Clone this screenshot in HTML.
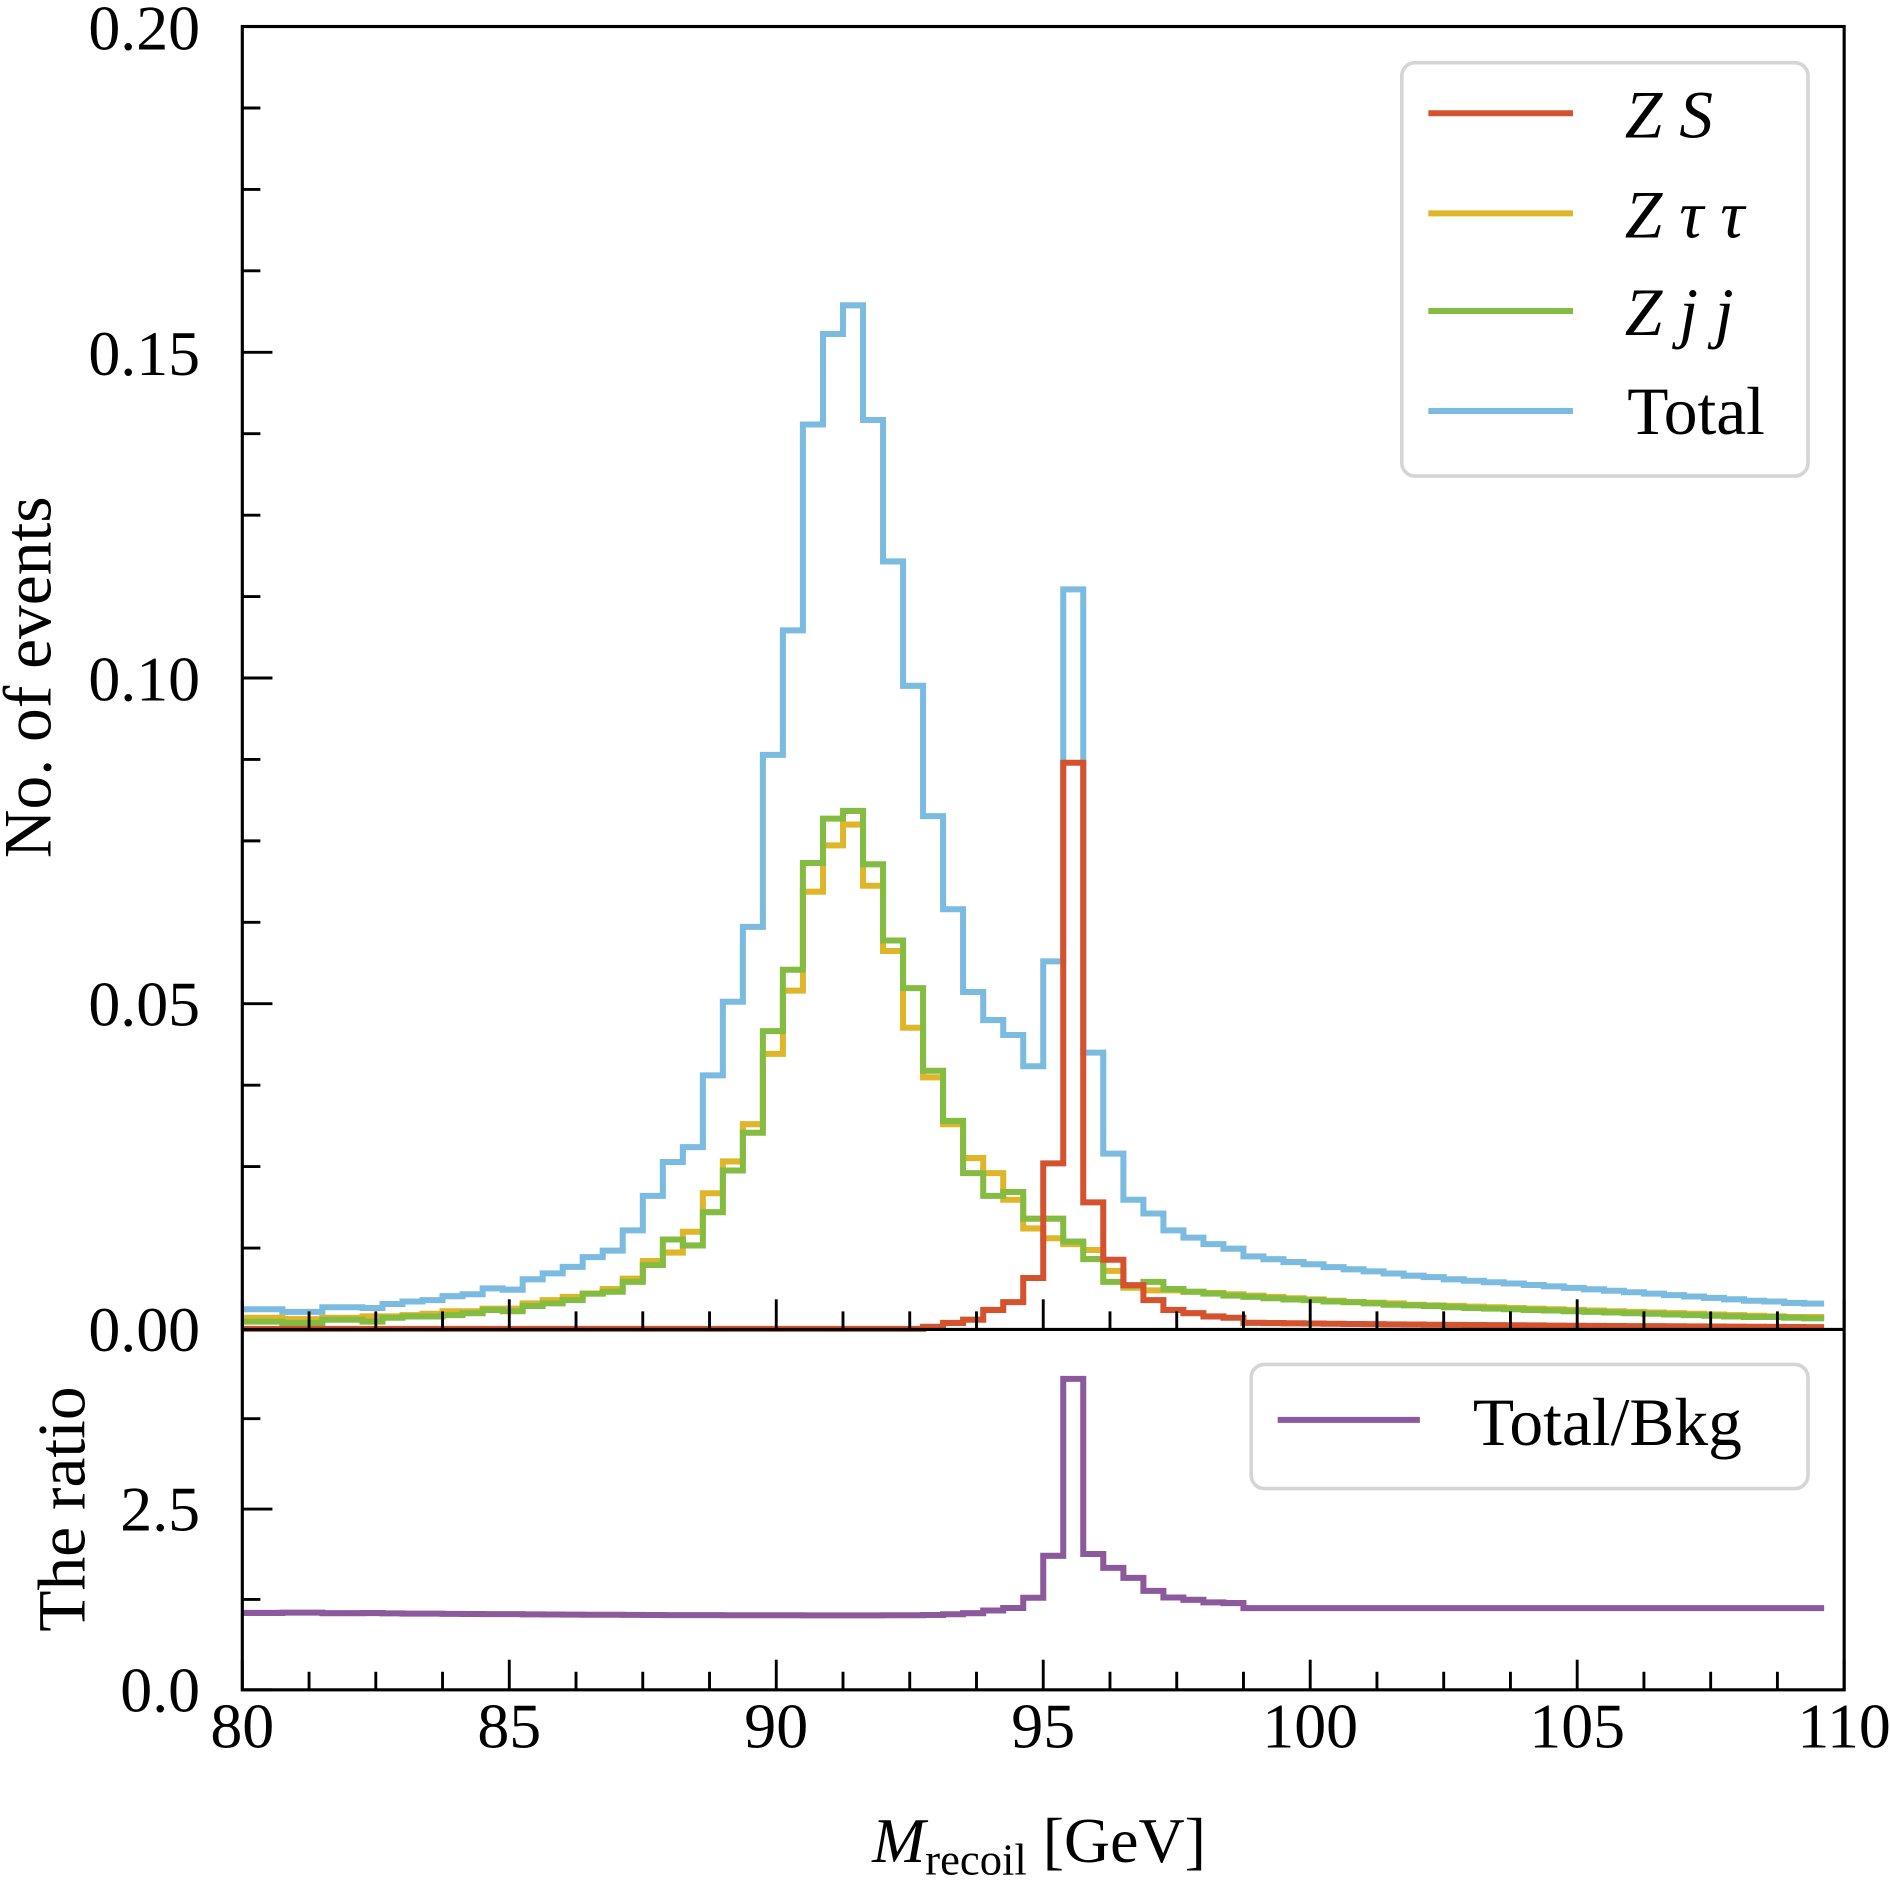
<!DOCTYPE html>
<html><head><meta charset="utf-8"><style>
html,body{margin:0;padding:0;background:#fff;}
svg{display:block;}
text{font-family:"Liberation Serif",serif;fill:#000;}
</style></head><body>
<svg id="s" width="1890" height="1881" viewBox="0 0 1568 1560.6" xmlns="http://www.w3.org/2000/svg">
<rect x="0" y="0" width="1568" height="1561" fill="#fff"/>
<g id="series" fill="none" stroke-width="5" stroke-linejoin="miter"></g>
<g id="ticks" stroke="#000" stroke-width="2.4"></g>
<rect x="201" y="22" width="1329" height="1380" fill="none" stroke="#000" stroke-width="2.6"/>
<line x1="201" y1="1103" x2="1530" y2="1103" stroke="#000" stroke-width="2.6"/>
<g font-size="53" text-anchor="end">
<text x="166" y="1121">0.00</text>
<text x="166" y="851">0.05</text>
<text x="166" y="581">0.10</text>
<text x="166" y="311">0.15</text>
<text x="166" y="41">0.20</text>
<text x="166" y="1270">2.5</text>
<text x="166" y="1420">0.0</text>
</g>
<g font-size="53" text-anchor="middle">
<text x="201" y="1450">80</text>
<text x="422.5" y="1450">85</text>
<text x="644" y="1450">90</text>
<text x="865.5" y="1450">95</text>
<text x="1087" y="1450">100</text>
<text x="1308.5" y="1450">105</text>
<text x="1530" y="1450">110</text>
</g>
<text x="862" y="1545" font-size="53" text-anchor="middle"><tspan font-style="italic">M</tspan><tspan font-size="37" dy="10">recoil</tspan><tspan dy="-10"> [GeV]</tspan></text>
<text transform="translate(42,562) rotate(-90)" font-size="56" text-anchor="middle">No. of events</text>
<text transform="translate(70,1252) rotate(-90)" font-size="56" text-anchor="middle">The ratio</text>
<rect x="1163" y="52" width="337" height="343" rx="11" fill="#fff" stroke="#d5d5d5" stroke-width="3"/>
<line x1="1185" y1="94" x2="1305" y2="94" stroke="#d4532e" stroke-width="5"/>
<line x1="1185" y1="177" x2="1305" y2="177" stroke="#dfb52a" stroke-width="5"/>
<line x1="1185" y1="258" x2="1305" y2="258" stroke="#84bc41" stroke-width="5"/>
<line x1="1185" y1="341" x2="1305" y2="341" stroke="#7bbbe0" stroke-width="5"/>
<g font-size="56" font-style="italic">
<text x="1348" y="114">Z S</text>
<text x="1348" y="197">Z τ τ</text>
<text x="1348" y="278">Z j j</text>
</g>
<text x="1350" y="360" font-size="56">Total</text>
<rect x="1038" y="1132" width="462" height="103" rx="11" fill="#fff" stroke="#d5d5d5" stroke-width="3"/>
<line x1="1060" y1="1178" x2="1178" y2="1178" stroke="#8c5a9c" stroke-width="5"/>
<text x="1222" y="1199" font-size="56">Total/Bkg</text>
</svg>
<script>
var g=[.0012,.0012,.0010,.0010,.0015,.0015,.0012,.0018,.0020,.0020,
.0022,.0025,.0030,.0028,.0036,.0040,.0045,.0055,.0058,.0073,
.0099,.0138,.0129,.0180,.0244,.0302,.0458,.0552,.0716,.0784,
.0796,.0714,.0597,.0524,.0397,.0320,.0240,.0205,.0211,.0170,
.0170,.0135,.0108,.0073,.0067,.0073,.0062,.0058,.0055,.0052,
.0050,.0048,.0046,.0045,.0043,.0042,.0040,.0038,.0037,.0036,
.0034,.0033,.0032,.0031,.0030,.0029,.0028,.0027,.0026,.0025,
.0024,.0023,.0022,.0021,.0020,.0019,.0019,.0018,.0017];
var y=[.0018,.0018,.0016,.0016,.0018,.0018,.0020,.0020,.0022,.0024,
.0028,.0028,.0032,.0032,.0040,.0045,.0050,.0055,.0062,.0078,
.0105,.0118,.0150,.0209,.0258,.0315,.0423,.0520,.0672,.0743,
.0775,.0681,.0581,.0463,.0387,.0315,.0263,.0240,.0199,.0155,
.0140,.0131,.0122,.0090,.0064,.0060,.0060,.0058,.0056,.0054,
.0052,.0050,.0048,.0046,.0044,.0042,.0041,.0040,.0038,.0037,
.0036,.0035,.0034,.0033,.0032,.0031,.0030,.0029,.0028,.0027,
.0026,.0025,.0024,.0023,.0022,.0021,.0020,.0019,.0019];
var N=79;
var r=[];for(var i=0;i<N;i++)r.push(0.0001);
var rr={34:.0004,35:.001,36:.0015,37:.003,38:.0042,39:.0079,40:.0255,41:.087,42:.0195,43:.0107,44:.0068,45:.0045,46:.003,47:.0025,48:.002,49:.0018};
for(var k in rr)r[k]=rr[k];for(var i=50;i<N;i++)r[i]=0.1*(g[i]+y[i]);
var t=[],q=[];for(var i=0;i<N;i++){t.push(g[i]+y[i]+r[i]);q.push(t[i]/(g[i]+y[i])+0.03);}
function X(i){return 201+i*1329/80;}
function path(a,fy){var d="M"+X(0)+" "+fy(a[0]);for(var i=0;i<N;i++){d+=" V"+fy(a[i])+" H"+X(i+1).toFixed(1);}return d;}
function ym(v){return (1103-v*5405).toFixed(1);}
function yr(v){return (1402-v*60).toFixed(1);}
var ns="http://www.w3.org/2000/svg",S=document.getElementById("series");
function add(d,c){var p=document.createElementNS(ns,"path");p.setAttribute("d",d);p.setAttribute("stroke",c);S.appendChild(p);}
add(path(t,ym),"#7bbbe0");add(path(y,ym),"#dfb52a");add(path(g,ym),"#84bc41");add(path(r,ym),"#d4532e");add(path(q,yr),"#8c5a9c");
var T=document.getElementById("ticks");
function ln(x1,y1,x2,y2){var l=document.createElementNS(ns,"line");l.setAttribute("x1",x1);l.setAttribute("y1",y1);l.setAttribute("x2",x2);l.setAttribute("y2",y2);T.appendChild(l);}
for(var j=0;j<=24;j++){var x=201+j*1329/24,L=(j%4==0)?25:15;ln(x,1103,x,1103-L);ln(x,1402,x,1402-L);}
for(var j=0;j<=16;j++){var yy=1103-j*67.56,L=(j%4==0)?25:15;ln(201,yy,201+L,yy);}
for(var j=0;j<=3;j++){var yy=1402-j*75,L=(j%2==0)?25:15;ln(201,yy,201+L,yy);}
</script>
</body></html>
